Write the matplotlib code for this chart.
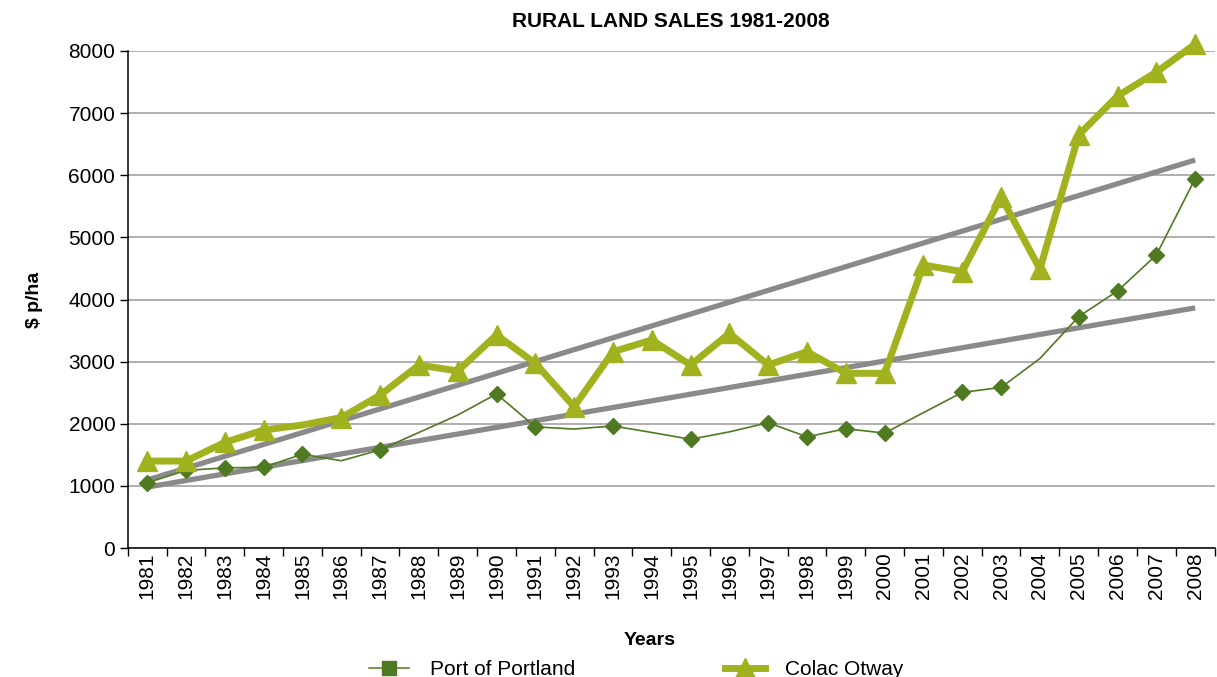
import numpy as np
import matplotlib.pyplot as plt

plt.rcParams['font.family'] = ['Liberation Sans', 'DejaVu Sans']

years = list(range(1981, 2009))

port_portland = [1050, 1250, 1290, 1300, 1510, 1405, 1580, 1860, 2140, 2480,
                 1950, 1915, 1965, 1860, 1750, 1870, 2017, 1790, 1920, 1850,
                 2180, 2505, 2585, 3050, 3725, 4137, 4716, 5945]
colac_otway = [1400, 1400, 1700, 1900, 1980, 2100, 2460, 2945, 2850, 3430,
               2973, 2275, 3160, 3348, 2946, 3455, 2946, 3160, 2812, 2812,
               4555, 4448, 5650, 4490, 6650, 7275, 7660, 8110]

# linear trend values at first and last year
port_trend = [980, 3865]
colac_trend = [1095, 6245]

# years that carry a marker in each series
port_marked = [0, 1, 2, 3, 4, 6, 9, 10, 12, 14, 16, 17, 18, 19, 21, 22, 24, 25, 26, 27]
colac_marked = [i for i in range(len(years)) if i != 4]

x = np.arange(len(years))
dark_green = '#4f7a22'
lime = '#a2b21e'
trend_grey = '#8a8a8a'

fig = plt.figure(figsize=(12.17, 6.77), dpi=100)
ax = fig.add_axes([0.105, 0.1905, 0.893, 0.7342])

for trend in (port_trend, colac_trend):
    ax.plot([x[0], x[-1]], trend, color=trend_grey, lw=3.8, zorder=2,
            solid_capstyle='butt')

ax.plot(x, port_portland, color=dark_green, lw=1.2, marker='D', ms=8,
        markevery=port_marked, zorder=3, clip_on=False)
ax.plot(x, colac_otway, color=lime, lw=5, marker='^', ms=14,
        markevery=colac_marked, zorder=4, clip_on=False)

ax.set_xlim(-0.5, len(years) - 0.5)
ax.set_ylim(0, 8000)
ax.set_yticks(range(0, 8001, 1000))
ax.yaxis.grid(True, color='#9a9a9a', lw=1.1)
ax.set_axisbelow(True)
ax.set_xticks(x)
ax.set_xticklabels([str(y) for y in years], rotation=90, fontsize=15)
ax.set_xticks(np.arange(-0.5, len(years)), minor=True)
ax.tick_params(axis='x', which='major', length=0, pad=3)
ax.tick_params(axis='x', which='minor', length=6, width=1, color='black')
ax.tick_params(axis='y', labelsize=15, length=6, width=1, pad=3)
for side in ('top', 'right'):
    ax.spines[side].set_visible(False)
ax.spines['left'].set_linewidth(1.1)
ax.spines['bottom'].set_linewidth(1.1)

ax.set_title('RURAL LAND SALES 1981-2008', fontsize=15, fontweight='bold', pad=17)
ax.set_xlabel('Years', fontsize=14, fontweight='bold')
ax.xaxis.set_label_coords(0.48, -0.168)
ax.set_ylabel('$ p/ha', fontsize=14, fontweight='bold', labelpad=18)

h1, = ax.plot([], [], color=dark_green, lw=1.1, marker='s', ms=9.5)
h2, = ax.plot([], [], color=lime, lw=5, marker='^', ms=14)
fig.legend([h1, h2], ['Port of Portland', 'Colac Otway'], loc='lower center',
           bbox_to_anchor=(0.523, -0.031), ncol=2, frameon=False, fontsize=15,
           handlelength=1.9, handletextpad=1.0, columnspacing=7.2)

fig.savefig('out.png', dpi=100)
